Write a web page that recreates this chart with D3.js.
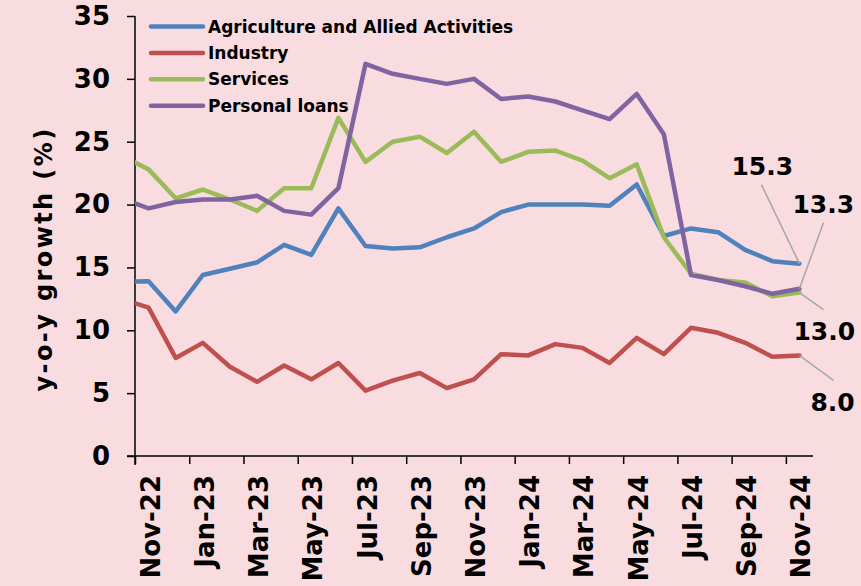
<!DOCTYPE html>
<html>
<head>
<meta charset="utf-8">
<script src="https://cdn.jsdelivr.net/npm/d3@7"></script>
<style>
  html, body { margin: 0; padding: 0; background: #f8dce0; }
  svg { display: block; font-family: "DejaVu Sans", Verdana, sans-serif; font-weight: bold; }
</style>
</head>
<body>
<div id="chart"></div>
<script>
// months shown on the axis
var months = ["Nov-22","Dec-22","Jan-23","Feb-23","Mar-23","Apr-23","May-23","Jun-23","Jul-23","Aug-23","Sep-23","Oct-23",
  "Nov-23","Dec-23","Jan-24","Feb-24","Mar-24","Apr-24","May-24","Jun-24","Jul-24","Aug-24","Sep-24","Oct-24","Nov-24"];

// value of the month before Nov-22 (Oct-22); only the half segment up to the axis is visible
var agriPrev = 13.85, industryPrev = 12.5, servicesPrev = 23.9, personalPrev = 20.5;

var agriculture = [13.9,11.5,14.4,14.9,15.4,16.8,16.0,19.7,16.7,16.5,16.6,17.4,18.1,19.4,20.0,20.0,20.0,19.9,21.6,17.5,18.1,17.8,16.4,15.5,15.3];
var industry    = [11.8,7.8,9.0,7.1,5.9,7.2,6.1,7.4,5.2,6.0,6.6,5.4,6.1,8.1,8.0,8.9,8.6,7.4,9.4,8.1,10.2,9.8,9.0,7.9,8.0];
var services    = [22.8,20.5,21.2,20.4,19.5,21.3,21.3,26.9,23.4,25.0,25.4,24.1,25.8,23.4,24.2,24.3,23.5,22.1,23.2,17.4,14.5,14.0,13.8,12.7,13.0];
var personal    = [19.7,20.2,20.4,20.4,20.7,19.5,19.2,21.3,31.2,30.4,30.0,29.6,30.0,28.4,28.6,28.2,27.5,26.8,28.8,25.6,14.4,14.0,13.5,12.9,13.3];

var seriesNames = ["Agriculture and Allied Activities","Industry","Services","Personal loans"];
var yTicks = [0,5,10,15,20,25,30,35];
var endLabels = ["15.3","8.0","13.0","13.3"];

(function() {
  var W = 861, H = 586;
  var colors = ["#4f81bd","#c0504d","#9bbb59","#8064a2"];
  var allSeries = [
    {name: seriesNames[0], vals: agriculture, prev: agriPrev},
    {name: seriesNames[1], vals: industry, prev: industryPrev},
    {name: seriesNames[2], vals: services, prev: servicesPrev},
    {name: seriesNames[3], vals: personal, prev: personalPrev}
  ];

  var svg = d3.select("#chart").append("svg").attr("width", W).attr("height", H);
  svg.append("rect").attr("width", W).attr("height", H).attr("fill", "#f8dce0");

  var plotLeft = 135, plotRight = 813, plotTop = 16, plotBottom = 456;
  var x = d3.scaleLinear().domain([-0.5, months.length - 0.5]).range([plotLeft, plotRight]);
  var y = d3.scaleLinear().domain([0, 35]).range([plotBottom, plotTop]);

  // clip so the Oct-22 segment stops at the y axis
  svg.append("clipPath").attr("id", "plot")
    .append("rect").attr("x", plotLeft).attr("y", 0).attr("width", plotRight - plotLeft + 20).attr("height", H);

  // y axis
  var yAxis = svg.append("g").attr("transform", "translate(" + plotLeft + ",0)")
    .call(d3.axisLeft(y).tickValues(yTicks).tickSize(8).tickPadding(17));
  yAxis.select(".domain").attr("d", "M0," + plotTop + "V" + (plotBottom + 9)).attr("stroke-width", 1.5);
  yAxis.selectAll("line").attr("stroke-width", 1.5);
  yAxis.selectAll("text").attr("font-size", 26).attr("font-family", "DejaVu Sans").attr("font-weight", "bold").attr("fill", "#000");

  // x axis: ticks every second category boundary
  var xTickVals = d3.range(-0.5, months.length - 1, 2);
  var xAxis = svg.append("g").attr("transform", "translate(0," + plotBottom + ")")
    .call(d3.axisBottom(x).tickValues(xTickVals).tickSize(8).tickFormat(""));
  xAxis.select(".domain").attr("d", "M" + (plotLeft - 8) + ",0H" + plotRight).attr("stroke-width", 1.5);
  xAxis.selectAll("line").attr("stroke-width", 1.5);

  var labelIdx = d3.range(0, months.length, 2);
  svg.append("g").selectAll("text").data(labelIdx).enter().append("text")
    .attr("transform", function(i){ return "translate(" + (x(i) + 11) + "," + (plotBottom + 19) + ") rotate(-90)"; })
    .attr("text-anchor", "end")
    .attr("font-size", 26)
    .text(function(i){ return months[i]; });

  // y axis title
  svg.append("text")
    .attr("transform", "translate(52,259) rotate(-90)")
    .attr("text-anchor", "middle")
    .attr("font-size", 24)
    .attr("letter-spacing", 2.4)
    .text("y-o-y growth (%)");

  // lines
  var line = d3.line().x(function(d){ return x(d[0]); }).y(function(d){ return y(d[1]); });
  var gLines = svg.append("g").attr("clip-path", "url(#plot)");
  allSeries.forEach(function(s, k){
    var pts = [[-1, s.prev]].concat(s.vals.map(function(v, i){ return [i, v]; }));
    gLines.append("path")
      .attr("d", line(pts))
      .attr("fill", "none")
      .attr("stroke", colors[k])
      .attr("stroke-width", 4.5)
      .attr("stroke-linejoin", "round")
      .attr("stroke-linecap", "round");
  });

  // legend
  var legend = svg.append("g");
  seriesNames.forEach(function(n, k){
    var ly = 26.5 + k * 26.4;
    legend.append("line").attr("x1", 151).attr("x2", 203).attr("y1", ly).attr("y2", ly)
      .attr("stroke", colors[k]).attr("stroke-width", 4.5).attr("stroke-linecap", "round");
    legend.append("text").attr("x", 208).attr("y", ly + 6).attr("font-size", 17).text(n);
  });

  // end-value labels with leader lines (offsets from the last point)
  var last = months.length - 1;
  var labelOffsets = [
    {lx: -68, ly: -89, ex: -38, ey: -79},  // agriculture
    {lx: 11, ly: 56, ex: 34, ey: 25},      // industry
    {lx: -6, ly: 47, ex: 24, ey: 17},      // services
    {lx: -7, ly: -76, ex: 24, ey: -66}     // personal loans
  ];
  allSeries.forEach(function(s, k){
    var px = x(last), py = y(s.vals[last]), o = labelOffsets[k];
    svg.append("line").attr("x1", px).attr("y1", py).attr("x2", px + o.ex).attr("y2", py + o.ey)
      .attr("stroke", "#a6a6a6").attr("stroke-width", 1.5);
    svg.append("text").attr("x", px + o.lx).attr("y", py + o.ly).attr("font-size", 25).text(endLabels[k]);
  });
})();
</script>
</body>
</html>
